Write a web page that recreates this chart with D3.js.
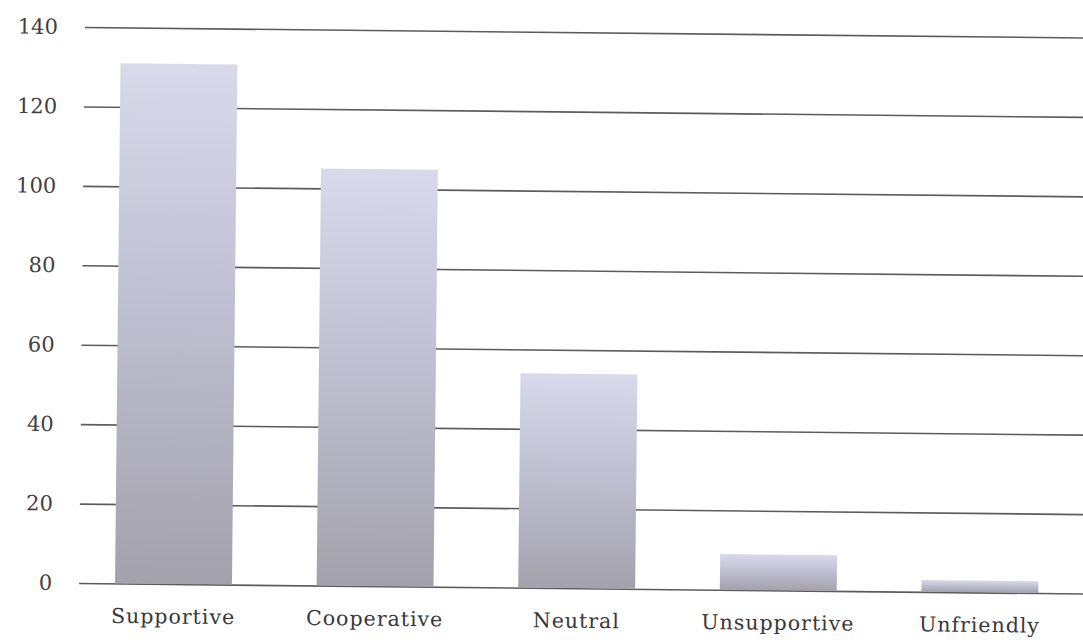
<!DOCTYPE html>
<html>
<head>
<meta charset="utf-8">
<script src="https://cdn.jsdelivr.net/npm/d3@7"></script>
<style>
  html, body { margin: 0; padding: 0; background: #fff; }
  svg { display: block; }
</style>
</head>
<body>
<div id="chart"></div>
<script>
const categories = ["Supportive", "Cooperative", "Neutral", "Unsupportive", "Unfriendly"];
const values = [131, 105, 54, 9, 3];
const yTicks = [0, 20, 40, 60, 80, 100, 120, 140];

const W = 1083, H = 640;

const svg = d3.select("#chart")
    .append("svg")
    .attr("width", W)
    .attr("height", H);

const defs = svg.append("defs");
const grad = defs.append("linearGradient")
    .attr("id", "barGrad")
    .attr("x1", 0).attr("y1", 0)
    .attr("x2", 0).attr("y2", 1);
grad.append("stop").attr("offset", "0%").attr("stop-color", "#dad9eb");
grad.append("stop").attr("offset", "50%").attr("stop-color", "#bebdcf");
grad.append("stop").attr("offset", "100%").attr("stop-color", "#a3a1ab");

// scanned page is slightly skewed
const g = svg.append("g")
    .attr("transform", "rotate(0.6, 80, 305)");

const y = d3.scaleLinear()
    .domain([0, 140])
    .range([583, 27]);

const x = d3.scaleBand()
    .domain(categories)
    .range([75.6, 1083.6])
    .paddingInner(0.42)
    .paddingOuter(0.21);

// gridlines
g.append("g")
    .attr("class", "grid")
    .attr("transform", "translate(82,0)")
    .call(d3.axisLeft(y).tickValues(yTicks).tickSize(-1040).tickFormat(""))
    .call(s => s.select(".domain").remove())
    .selectAll("line")
    .attr("stroke", "#5c5c5c")
    .attr("stroke-width", 1.6);

// y tick labels
g.append("g")
    .attr("transform", "translate(55,0)")
    .call(d3.axisLeft(y).tickValues(yTicks).tickSize(0).tickPadding(0))
    .call(s => s.select(".domain").remove())
    .selectAll("text")
    .attr("font-family", "'DejaVu Serif', serif")
    .attr("font-size", "21px")
    .attr("fill", "#404040");

// bars
g.selectAll(".bar")
    .data(values)
    .enter()
    .append("rect")
    .attr("class", "bar")
    .attr("x", (d, i) => x(categories[i]))
    .attr("width", x.bandwidth())
    .attr("y", d => y(d))
    .attr("height", d => y(0) - y(d))
    .attr("fill", "url(#barGrad)");

// category labels
g.append("g")
    .attr("transform", `translate(0,${y(0)})`)
    .call(d3.axisBottom(x).tickSize(0).tickPadding(25))
    .call(s => s.select(".domain").remove())
    .selectAll("text")
    .attr("font-family", "'DejaVu Serif', serif")
    .attr("font-size", "20.5px")
    .attr("letter-spacing", "1px")
    .attr("fill", "#383838");
</script>
</body>
</html>
